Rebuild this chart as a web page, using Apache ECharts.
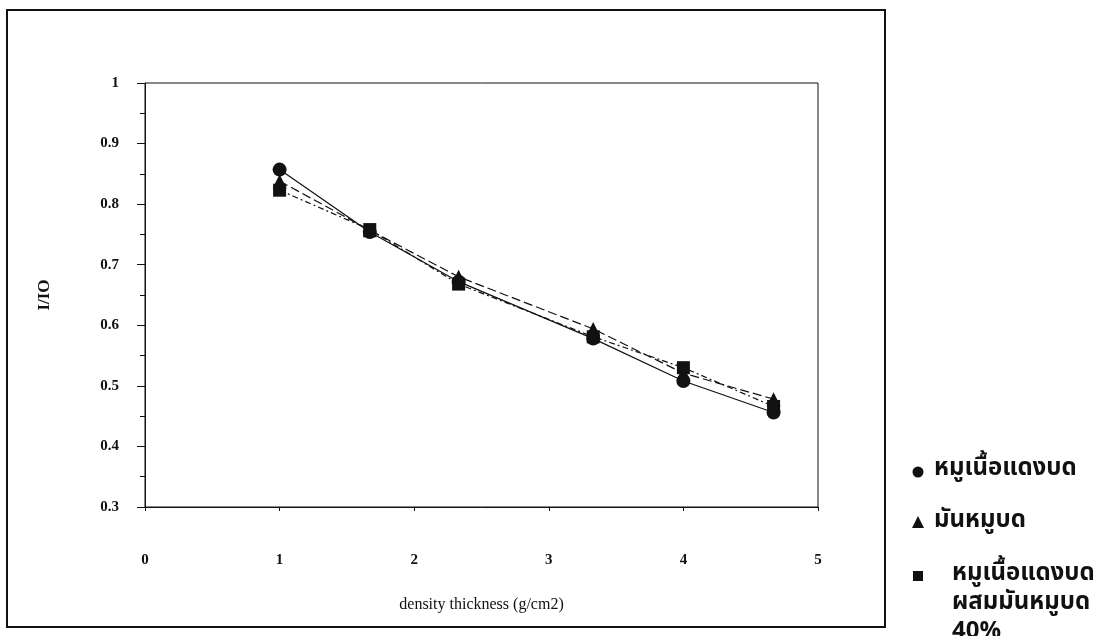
<!DOCTYPE html>
<html>
<head>
<meta charset="utf-8">
<style>
    html, body { margin: 0; padding: 0; background: #fff; }
    #chart { width: 1114px; height: 636px; }
</style>
<script src="https://cdn.jsdelivr.net/npm/echarts@6/dist/echarts.min.js"></script>
</head>
<body>
<div id="chart"></div>
<script>
    // density thickness (g/cm2)
    var thickness = [1, 1.67, 2.33, 3.33, 4, 4.67];
    // I/IO per sample
    var leanPork = [0.857, 0.754, 0.672, 0.578, 0.508, 0.456];
    var porkFat = [0.838, 0.757, 0.680, 0.594, 0.521, 0.478];
    var mixed40 = [0.823, 0.758, 0.668, 0.581, 0.530, 0.466];
    var seriesNames = ['หมูเนื้อแดงบด', 'มันหมูบด', 'หมูเนื้อแดงบด\nผสมมันหมูบด\n40%'];

    function pairs(ys) {
        return thickness.map(function (x, i) { return [x, ys[i]]; });
    }

    var serif = '"Liberation Serif", "DejaVu Serif", serif';
    var thai = '"Noto Sans Thai", "Noto Sans Thai Looped", "DejaVu Sans", sans-serif';
    var legendFont = 'bold 24px ' + thai;

    // legend drawn outside the framed box, like the scanned figure
    var legendItems = [
        { type: 'circle', shape: { cx: 918, cy: 472, r: 5.5 }, style: { fill: '#111' } },
        { type: 'text', x: 934, y: 470, style: { text: seriesNames[0], font: legendFont, fill: '#111', verticalAlign: 'middle' } },
        { type: 'polygon', shape: { points: [[918, 516], [912, 528], [924, 528]] }, style: { fill: '#111' } },
        { type: 'text', x: 934, y: 522, style: { text: seriesNames[1], font: legendFont, fill: '#111', verticalAlign: 'middle' } },
        { type: 'rect', shape: { x: 913, y: 571, width: 10, height: 10 }, style: { fill: '#111' } },
        // multi-line label: first line centred on the square
        { type: 'text', x: 952, y: 561, style: { text: seriesNames[2], font: legendFont, fill: '#111', verticalAlign: 'top', lineHeight: 29 } }
    ];

    var chart = echarts.init(document.getElementById('chart'));
    var option = {
        backgroundColor: '#fff',
        animation: false,
        grid: {
            left: 145,
            top: 83,
            width: 673,
            height: 424,
            show: true,
            borderColor: '#111',
            borderWidth: 1
        },
        xAxis: {
            type: 'value',
            min: 0,
            max: 5,
            interval: 1,
            name: 'density thickness (g/cm2)',
            nameLocation: 'middle',
            nameGap: 90,
            nameTextStyle: { fontFamily: serif, fontSize: 16, color: '#111' },
            axisLine: { lineStyle: { color: '#111', width: 1 } },
            axisTick: { show: true, length: 4, lineStyle: { color: '#111' } },
            axisLabel: { margin: 46, fontFamily: serif, fontWeight: 'bold', fontSize: 15, color: '#111' },
            splitLine: { show: false }
        },
        yAxis: {
            type: 'value',
            min: 0.3,
            max: 1,
            interval: 0.1,
            name: 'I/IO',
            nameLocation: 'middle',
            nameGap: 92,
            nameRotate: 90,
            nameTextStyle: { fontFamily: serif, fontWeight: 'bold', fontSize: 17, color: '#111' },
            axisLine: { show: true, lineStyle: { color: '#111', width: 1 } },
            axisTick: { show: true, length: 8, lineStyle: { color: '#111' } },
            minorTick: { show: true, splitNumber: 2, length: 5, lineStyle: { color: '#111' } },
            axisLabel: {
                margin: 26,
                fontFamily: serif,
                fontWeight: 'bold',
                fontSize: 15,
                color: '#111',
                formatter: function (v) { return v === 1 ? '1' : v.toFixed(1); }
            },
            splitLine: { show: false }
        },
        graphic: [{
            type: 'rect',
            shape: { x: 7, y: 10, width: 878, height: 617 },
            style: { fill: 'none', stroke: '#111', lineWidth: 2 },
            silent: true
        }].concat(legendItems),
        series: [
            {
                name: seriesNames[0],
                type: 'line',
                data: pairs(leanPork),
                symbol: 'circle',
                symbolSize: 14,
                itemStyle: { color: '#111' },
                lineStyle: { color: '#111', width: 1.2, type: 'solid' },
                z: 3
            },
            {
                name: seriesNames[1],
                type: 'line',
                data: pairs(porkFat),
                symbol: 'triangle',
                symbolSize: 14,
                itemStyle: { color: '#111' },
                lineStyle: { color: '#111', width: 1.2, type: [9, 4] },
                z: 2
            },
            {
                name: seriesNames[2],
                type: 'line',
                data: pairs(mixed40),
                symbol: 'rect',
                symbolSize: 13,
                itemStyle: { color: '#111' },
                lineStyle: { color: '#111', width: 1.2, type: [6, 3, 2, 3] },
                z: 1
            }
        ]
    };
    chart.setOption(option);
</script>
</body>
</html>
